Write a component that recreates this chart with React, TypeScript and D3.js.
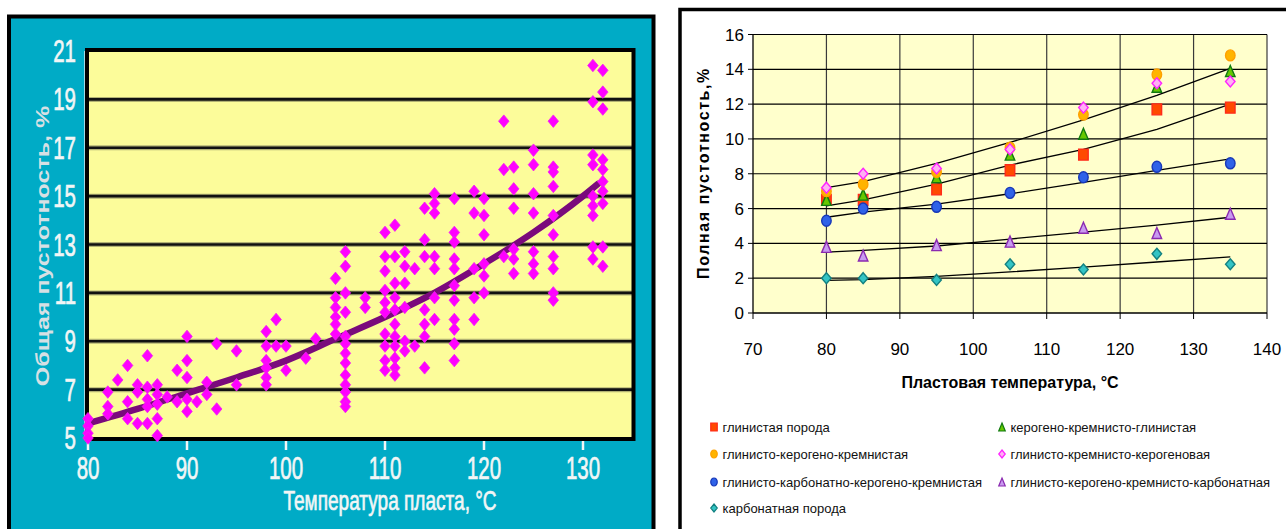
import * as d3 from "d3";

// ---------- left chart: field samples ----------
const fieldTemps = [80, 82, 83, 84, 85, 86, 87, 88, 89, 90, 91, 92, 93, 95, 98, 99, 100, 102, 103, 105, 106, 108, 110, 111, 112, 113, 114, 115, 117, 119, 120, 122, 123, 125, 127, 131, 132];
const fieldPorosity = [
  [5.8, 5.5, 5.2, 5.0],
  [6.9, 6.3, 6.0],
  [7.4],
  [8.0, 6.5, 5.8],
  [7.2, 6.9, 5.6],
  [8.4, 7.1, 6.6, 6.3, 5.6],
  [7.2, 6.8, 6.4, 5.8, 5.1],
  [6.7],
  [7.8, 6.5],
  [9.2, 8.2, 7.5, 6.6, 6.1],
  [6.5],
  [7.3, 6.8],
  [8.9, 6.2],
  [8.6, 7.2],
  [9.4, 8.8, 8.2, 7.9, 7.5, 7.2],
  [9.9, 8.8],
  [8.8, 7.8],
  [8.3],
  [9.1],
  [11.6, 10.8, 10.4, 10.0, 9.7, 9.3],
  [12.7, 12.1, 11.0, 10.2, 9.2, 8.9, 8.5, 8.1, 7.6, 7.2, 6.9, 6.5, 6.3],
  [10.8, 10.4],
  [13.5, 12.5, 11.9, 11.1, 10.6, 10.2, 9.3, 8.8, 8.2, 7.8],
  [13.8, 12.5, 11.4, 10.8, 10.3, 9.7, 9.2, 8.8, 8.3, 7.9, 7.6],
  [12.7, 12.1, 11.4, 10.4, 9.0, 8.6],
  [12.0, 8.8],
  [14.5, 13.2, 12.5, 10.3, 9.7, 9.2, 7.9],
  [15.1, 14.7, 14.3, 12.5, 12.0, 10.8, 9.9],
  [14.9, 13.5, 13.1, 12.4, 12.0, 11.3, 10.7, 9.9, 9.5, 8.9, 8.2],
  [15.2, 14.3, 12.0, 10.8, 9.9],
  [14.9, 14.2, 13.4, 12.2, 11.7, 11.0],
  [18.1, 16.1, 12.5],
  [16.2, 15.3, 14.5, 12.8, 12.4, 11.8],
  [16.9, 16.3, 15.1, 14.3, 12.7, 12.2, 11.8],
  [18.1, 16.2, 16.0, 15.4, 14.2, 13.4, 12.5, 12.0, 11.0, 10.7],
  [20.4, 18.9, 16.7, 16.3, 15.0, 14.6, 14.2, 12.9, 12.4],
  [20.2, 19.3, 18.6, 16.5, 16.1, 15.6, 15.2, 14.7, 12.9, 12.1],
];
const fieldTrendT = [80, 85, 90, 95, 100, 105, 110, 115, 120, 125, 130, 131.5];
const fieldTrendP = [5.6, 6.2, 6.85, 7.5, 8.2, 9.1, 10.0, 11.0, 12.2, 13.5, 15.0, 15.5];
const leftYTicks = [5, 7, 9, 11, 13, 15, 17, 19, 21];
const leftXTicks = [80, 90, 100, 110, 120, 130];

// ---------- right chart: rock types ----------
const rockTemps = [80, 85, 95, 105, 115, 125, 135];
const rockNames = [
  "глинистая порода",
  "керогено-кремнисто-глинистая",
  "глинисто-керогено-кремнистая",
  "глинисто-кремнисто-керогеновая",
  "глинисто-карбонатно-керогено-кремнистая",
  "глинисто-керогено-кремнисто-карбонатная",
  "карбонатная порода",
];
const clayRock = [6.5, 6.5, 7.1, 8.2, 9.1, 11.7, 11.8];
const kerogenSiliceousClay = [6.5, 6.8, 7.8, 9.1, 10.3, 13.0, 13.9];
const clayKerogenSiliceous = [7.0, 7.4, 8.1, 9.5, 11.4, 13.7, 14.8];
const claySiliceousKerogen = [7.2, 8.0, 8.3, 9.4, 11.8, 13.2, 13.3];
const clayCarbKerogenSil = [5.3, 6.0, 6.1, 6.9, 7.8, 8.4, 8.6];
const clayKerogenSilCarb = [3.8, 3.3, 3.9, 4.1, 4.9, 4.6, 5.7];
const carbonateRock = [2.0, 2.0, 1.9, 2.8, 2.5, 3.4, 2.8];
const rockSeries = [clayRock, kerogenSiliceousClay, clayKerogenSiliceous, claySiliceousKerogen, clayCarbKerogenSil, clayKerogenSilCarb, carbonateRock];

const trendTemps = [80, 85, 95, 105, 115, 125, 135];
const trendUpper = [7.2, 7.55, 8.6, 9.8, 11.1, 12.5, 14.05];
const trendClay = [6.15, 6.5, 7.4, 8.5, 9.4, 10.55, 12.0];
const trendMixed = [5.5, 5.8, 6.25, 6.85, 7.5, 8.2, 8.85];
const trendCarbMixed = [3.5, 3.6, 3.85, 4.25, 4.65, 5.05, 5.5];
const trendCarbonate = [1.88, 1.92, 2.1, 2.36, 2.64, 2.93, 3.22];
const rockTrends = [trendUpper, trendClay, trendMixed, trendCarbMixed, trendCarbonate];

const rightYTicks = [0, 2, 4, 6, 8, 10, 12, 14, 16];
const rightXTicks = [70, 80, 90, 100, 110, 120, 130, 140];

type Kind = "square" | "triangle" | "circle" | "diamond";
const markerStyle: { kind: Kind; fill: string; stroke: string }[] = [
  { kind: "square", fill: "#ff4a00", stroke: "#ff2a1a" },
  { kind: "triangle", fill: "#66c800", stroke: "#107a10" },
  { kind: "circle", fill: "#ffb400", stroke: "#ffa000" },
  { kind: "diamond", fill: "#ffb0f4", stroke: "#ff22ff" },
  { kind: "circle", fill: "#2f62e8", stroke: "#1838b8" },
  { kind: "triangle", fill: "#c89af0", stroke: "#8a2ab0" },
  { kind: "diamond", fill: "#33c4c4", stroke: "#138080" },
];

function markerPath(kind: Kind, w: number, h: number) {
  const a = w / 2, b = h / 2;
  if (kind === "square") return `M${-a},${-b}H${a}V${b}H${-a}Z`;
  if (kind === "triangle") return `M0,${-b}L${a},${b}H${-a}Z`;
  if (kind === "diamond") return `M0,${-b}L${a},0L0,${b}L${-a},0Z`;
  return `M${a},0A${a},${b} 0 1,1 ${-a},0A${a},${b} 0 1,1 ${a},0Z`;
}

const LEFT = { x0: 88, x1: 632.5, y0: 51, y1: 438 };
const RIGHT = { x0: 753, x1: 1267, y0: 34.5, y1: 313 };

export default function App() {
  const lx = d3.scaleLinear().domain([80, 135]).range([LEFT.x0, LEFT.x1]);
  const ly = d3.scaleLinear().domain([5, 21]).range([LEFT.y1, LEFT.y0]);
  const rx = d3.scaleLinear().domain([70, 140]).range([RIGHT.x0, RIGHT.x1]);
  const ry = d3.scaleLinear().domain([0, 16]).range([RIGHT.y1, RIGHT.y0]);

  const leftTrend = d3
    .line<number>()
    .x((_, i) => lx(fieldTrendT[i]))
    .y((d) => ly(d))
    .curve(d3.curveMonotoneX)(fieldTrendP);

  const rightLine = (vals: number[]) =>
    d3
      .line<number>()
      .x((_, i) => rx(trendTemps[i]))
      .y((d) => ry(d))(vals);

  const samples: [number, number][] = [];
  fieldTemps.forEach((t, i) => fieldPorosity[i].forEach((v) => samples.push([t, v])));

  const diamond = markerPath("diamond", 10.5, 12.5);
  const light = "#f2f6f6";
  const sans = "'Liberation Sans', Arial, sans-serif";

  return (
    <svg width={1286} height={529} style={{ position: "absolute", left: 0, top: 0 }}>
      <rect x={0} y={0} width={1286} height={529} fill="#fff" />

      {/* ---------------- left panel ---------------- */}
      <rect x={9} y={16.5} width={644.5} height={530} fill="#00abc6" stroke="#000" strokeWidth={4} />
      <rect x={LEFT.x0} y={LEFT.y0} width={LEFT.x1 - LEFT.x0} height={LEFT.y1 - LEFT.y0} fill="#fcfc9a" />
      {leftYTicks.slice(1, -1).map((t) => (
        <g key={t}>
          <line x1={LEFT.x0} x2={LEFT.x1} y1={ly(t)} y2={ly(t)} stroke="#6b6b50" strokeWidth={5} opacity={0.5} />
          <line x1={LEFT.x0} x2={LEFT.x1} y1={ly(t)} y2={ly(t)} stroke="#111" strokeWidth={2.6} />
        </g>
      ))}
      <line x1={85} x2={85} y1={LEFT.y0} y2={LEFT.y1 + 2} stroke="#d8e8ec" strokeWidth={1.5} />
      {leftXTicks.map((t) => (
        <line key={t} x1={lx(t)} x2={lx(t)} y1={LEFT.y1 + 3} y2={LEFT.y1 + 12} stroke={light} strokeWidth={2.5} />
      ))}
      <rect x={LEFT.x0 - 1} y={LEFT.y0 - 1} width={LEFT.x1 - LEFT.x0 + 2} height={LEFT.y1 - LEFT.y0 + 2} fill="none" stroke="#000" strokeWidth={4} />

      {leftTrend && (
        <path d={leftTrend} fill="none" stroke="#7a0a7c" strokeWidth={6.5} strokeLinecap="round" />
      )}
      {samples.map(([t, v], i) => (
        <path key={i} d={diamond} transform={`translate(${lx(t)},${ly(v)})`} fill="#ff00ff" stroke="#f020f0" strokeWidth={0.8} />
      ))}

      <g fontFamily={sans} fill={light} stroke={light} strokeWidth={0.7}>
        {leftYTicks.map((t) => (
          <text key={t} transform={`translate(76,${ly(t) + 11}) scale(0.66,1)`} textAnchor="end" fontSize={31}>
            {t}
          </text>
        ))}
        {leftXTicks.map((t) => (
          <text key={t} transform={`translate(${lx(t)},479) scale(0.66,1)`} textAnchor="middle" fontSize={31}>
            {t}
          </text>
        ))}
        <text transform="translate(390,510) scale(0.68,1)" textAnchor="middle" fontSize={28}>
          Температура пласта, °C
        </text>
      </g>
      <text
        transform="translate(49,246) rotate(-90) scale(1,0.75)"
        textAnchor="middle"
        fontFamily={sans}
        fontWeight="bold"
        fontSize={25}
        fill="#d6e0e4"
      >
        Общая пустотность, %
      </text>

      {/* ---------------- right panel ---------------- */}
      <rect x={680} y={9.5} width={640} height={540} fill="#fff" stroke="#000" strokeWidth={3.5} />
      <rect x={RIGHT.x0} y={RIGHT.y0} width={RIGHT.x1 - RIGHT.x0} height={RIGHT.y1 - RIGHT.y0} fill="#ffffcc" />
      {rightXTicks.slice(1).map((t) => (
        <line key={t} x1={rx(t)} x2={rx(t)} y1={RIGHT.y0} y2={RIGHT.y1} stroke="#3a3a3a" strokeWidth={1.2} />
      ))}
      {rightYTicks.slice(1).map((t) => (
        <line key={t} x1={RIGHT.x0} x2={RIGHT.x1} y1={ry(t)} y2={ry(t)} stroke="#000" strokeWidth={1.2} />
      ))}
      <line x1={RIGHT.x0} x2={RIGHT.x0} y1={RIGHT.y0} y2={RIGHT.y1} stroke="#000" strokeWidth={1.3} />
      <line x1={RIGHT.x0} x2={RIGHT.x1} y1={RIGHT.y1} y2={RIGHT.y1} stroke="#000" strokeWidth={1.3} />
      {rightYTicks.map((t) => (
        <g key={t}>
          <line x1={RIGHT.x0 - 5} x2={RIGHT.x0} y1={ry(t)} y2={ry(t)} stroke="#000" />
          <text x={RIGHT.x0 - 9} y={ry(t) + 6} textAnchor="end" fontFamily={sans} fontSize={17} fill="#000">
            {t}
          </text>
        </g>
      ))}
      {rightXTicks.map((t) => (
        <g key={t}>
          <line x1={rx(t)} x2={rx(t)} y1={RIGHT.y1} y2={RIGHT.y1 + 6} stroke="#000" />
          <text x={rx(t)} y={RIGHT.y1 + 42} textAnchor="middle" fontFamily={sans} fontSize={17} fill="#000">
            {t}
          </text>
        </g>
      ))}

      {rockTrends.map((vals, i) => (
        <path key={i} d={rightLine(vals) ?? ""} fill="none" stroke="#000" strokeWidth={1.3} />
      ))}
      {rockSeries.map((series, s) =>
        series.map((v, j) => (
          <path
            key={`${s}-${j}`}
            d={markerPath(markerStyle[s].kind, 9.5, 11)}
            transform={`translate(${rx(rockTemps[j])},${ry(v)})`}
            fill={markerStyle[s].fill}
            stroke={markerStyle[s].stroke}
            strokeWidth={1.4}
          />
        ))
      )}

      <text x={1010} y={388} textAnchor="middle" fontFamily={sans} fontWeight="bold" fontSize={16} fill="#000">
        Пластовая температура, °C
      </text>
      <text
        transform="translate(709,173) rotate(-90)"
        textAnchor="middle"
        fontFamily={sans}
        fontWeight="bold"
        fontSize={16}
        letterSpacing={1.6}
        fill="#000"
      >
        Полная пустотность,%
      </text>

      {rockNames.map((name, i) => {
        const col = i === 6 ? 0 : i % 2;
        const row = i === 6 ? 3 : Math.floor(i / 2);
        const mx = col === 0 ? 714 : 1002;
        const my = [427, 454, 482, 508][row];
        return (
          <g key={name}>
            <path
              d={markerPath(markerStyle[i].kind, 6.5, 8)}
              transform={`translate(${mx},${my})`}
              fill={markerStyle[i].fill}
              stroke={markerStyle[i].stroke}
              strokeWidth={1.2}
            />
            <text x={mx + 8.5} y={my + 4.5} fontFamily={sans} fontSize={13} fill="#111">
              {name}
            </text>
          </g>
        );
      })}
    </svg>
  );
}
